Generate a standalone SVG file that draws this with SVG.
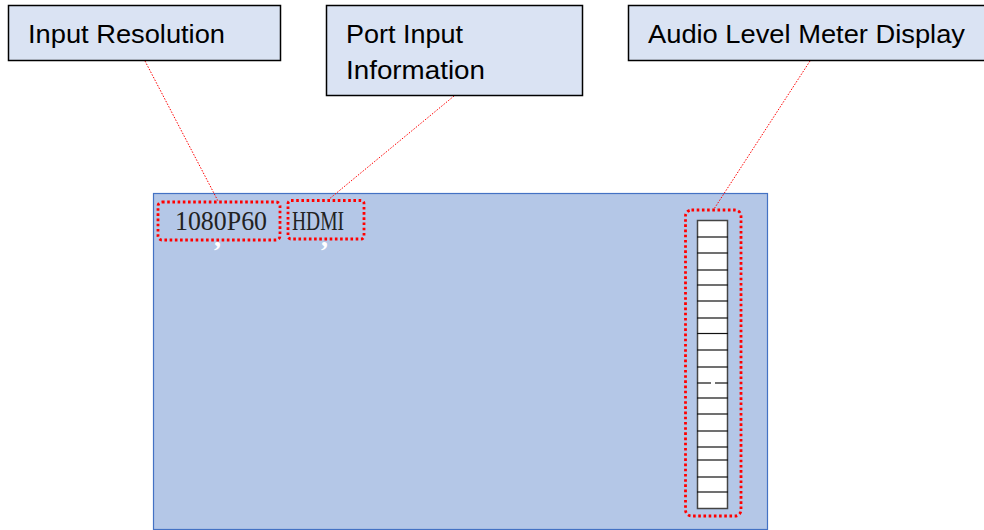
<svg xmlns="http://www.w3.org/2000/svg" width="984" height="530" viewBox="0 0 984 530">
<style>
.lbl{fill:#dae3f3;stroke:#000;stroke-width:1.5}
.lt{font-family:"Liberation Sans",Arial,sans-serif;font-size:26px;fill:#000}
.hl{fill:none;stroke:#ff0000;stroke-width:2.8;stroke-dasharray:2.6 2.6}
.con{fill:none;stroke:#ff0000;stroke-width:1;stroke-dasharray:1.5 1.5}
.st{font-family:"Liberation Serif","Times New Roman",serif;font-size:28px;fill:#222}
.cm{font-family:"Liberation Serif",serif;font-size:28px;font-weight:bold;fill:#fff}
.cell{stroke:#111;stroke-width:1.2}
</style>
<rect width="984" height="530" fill="#fff"/>
<g id="screen">
<rect x="153.5" y="193.5" width="614" height="336" fill="#b4c7e7" stroke="#4472c4" stroke-width="1.2"/>
<text class="st" x="175" y="230" textLength="92" lengthAdjust="spacingAndGlyphs">1080P60</text>
<text class="st" x="292" y="230" textLength="52" lengthAdjust="spacingAndGlyphs">HDMI</text>
</g>
<g id="meter">
<rect x="697.5" y="220.5" width="30" height="288" fill="#fff" stroke="#444" stroke-width="1.5"/>
<g class="cell">
<line x1="697" y1="237" x2="728" y2="237"/>
<line x1="697" y1="253" x2="728" y2="253"/>
<line x1="697" y1="270" x2="728" y2="270"/>
<line x1="697" y1="285" x2="728" y2="285"/>
<line x1="697" y1="301" x2="728" y2="301"/>
<line x1="697" y1="318" x2="728" y2="318"/>
<line x1="697" y1="333.5" x2="728" y2="333.5"/>
<line x1="697" y1="350" x2="728" y2="350"/>
<line x1="697" y1="367" x2="728" y2="367"/>
<line x1="697" y1="383" x2="711" y2="383"/>
<line x1="715" y1="383" x2="728" y2="383"/>
<line x1="697" y1="398" x2="728" y2="398"/>
<line x1="697" y1="414" x2="728" y2="414"/>
<line x1="697" y1="431" x2="728" y2="431"/>
<line x1="697" y1="447" x2="728" y2="447"/>
<line x1="697" y1="460" x2="728" y2="460"/>
<line x1="697" y1="477" x2="728" y2="477"/>
<line x1="697" y1="492" x2="728" y2="492"/>
</g>
</g>
<g id="highlights">
<rect class="hl" x="158" y="202" width="122" height="38" rx="4"/>
<rect class="hl" x="288" y="200.5" width="76" height="38.5" rx="3"/>
<rect class="hl" x="685.5" y="210" width="55.5" height="306" rx="6"/>
</g>
<g id="marks">
<text class="cm" x="214" y="246">,</text>
<text class="cm" x="321" y="246">,</text>
</g>
<g id="connectors">
<line class="con" x1="145" y1="61" x2="218" y2="201"/>
<line class="con" x1="454" y1="96" x2="328" y2="200"/>
<line class="con" x1="810" y1="61" x2="714" y2="209"/>
</g>
<g id="label-resolution">
<rect class="lbl" x="8.5" y="5.5" width="272" height="55"/>
<text class="lt" x="28" y="43" textLength="197" lengthAdjust="spacingAndGlyphs">Input Resolution</text>
</g>
<g id="label-port">
<rect class="lbl" x="326.5" y="5.5" width="256" height="90"/>
<text class="lt" x="346" y="43" textLength="117" lengthAdjust="spacingAndGlyphs">Port Input</text>
<text class="lt" x="346" y="79" textLength="139" lengthAdjust="spacingAndGlyphs">Information</text>
</g>
<g id="label-audio">
<rect class="lbl" x="628.5" y="5.5" width="360" height="55"/>
<text class="lt" x="648" y="43" textLength="317" lengthAdjust="spacingAndGlyphs">Audio Level Meter Display</text>
</g>
</svg>
